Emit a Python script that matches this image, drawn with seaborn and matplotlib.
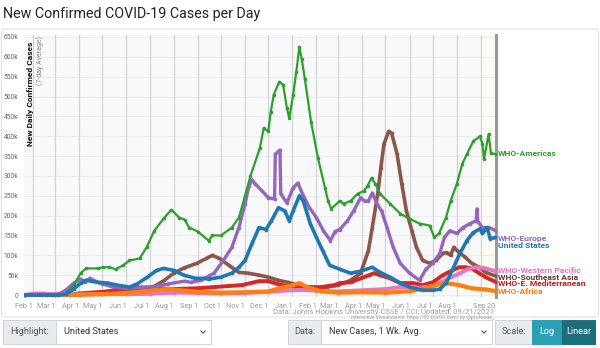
import matplotlib
matplotlib.use('Agg')
import matplotlib.pyplot as plt
from matplotlib.patches import Rectangle, FancyBboxPatch
import seaborn as sns
import pandas as pd

sns.set_theme(style='white')
plt.rcParams['font.family'] = ['Roboto', 'DejaVu Sans']

# ---------------- data (thousands of new cases per day, 7-day avg) ----------------
americas_dates = ['2020-01-22','2020-03-01','2020-03-15','2020-03-25','2020-04-03','2020-04-10','2020-04-25','2020-05-02',
    '2020-05-10','2020-05-18','2020-05-28','2020-06-05','2020-06-18','2020-06-27','2020-07-07','2020-07-20','2020-07-29',
    '2020-08-08','2020-08-15','2020-08-21','2020-09-01','2020-09-15','2020-09-20','2020-10-01','2020-10-15','2020-10-24',
    '2020-11-01','2020-11-08','2020-11-20','2020-11-25','2020-12-01','2020-12-04','2020-12-08','2020-12-15','2020-12-20',
    '2020-12-25','2020-12-28','2021-01-02','2021-01-06','2021-01-10','2021-01-13','2021-01-17','2021-01-25','2021-02-03',
    '2021-02-12','2021-02-16','2021-02-20','2021-03-03','2021-03-08','2021-03-17','2021-03-26','2021-04-03','2021-04-08',
    '2021-04-13','2021-04-18','2021-04-24','2021-05-07','2021-05-20','2021-06-01','2021-06-14','2021-06-27','2021-07-03',
    '2021-07-09','2021-07-18','2021-07-24','2021-08-01','2021-08-08','2021-08-14','2021-08-22','2021-08-31','2021-09-03',
    '2021-09-05','2021-09-11','2021-09-14','2021-09-20']
americas = [0,0,3,25,55,67,67,70,70,65,75,87,92,120,162,195,215,195,190,170,160,137,150,150,170,195,250,300,370,420,412,
    460,505,537,530,470,445,505,562,625,595,545,437,345,270,237,217,237,230,237,255,262,275,295,280,255,230,205,192,180,
    175,145,155,195,237,280,330,355,387,400,380,342,405,357,355]

europe_dates = ['2020-01-22','2020-02-25','2020-03-05','2020-03-15','2020-03-25','2020-04-03','2020-04-08','2020-04-15',
    '2020-04-22','2020-05-01','2020-05-15','2020-06-01','2020-06-20','2020-07-10','2020-07-25','2020-08-15','2020-08-23',
    '2020-09-05','2020-09-22','2020-10-04','2020-10-15','2020-10-24','2020-11-01','2020-11-06','2020-11-10','2020-11-14',
    '2020-11-23','2020-12-01','2020-12-09','2020-12-10','2020-12-16','2020-12-17','2020-12-25','2021-01-02','2021-01-08',
    '2021-01-14','2021-01-23','2021-02-01','2021-02-10','2021-02-19','2021-02-25','2021-03-03','2021-03-13','2021-03-21',
    '2021-03-30','2021-04-04','2021-04-09','2021-04-14','2021-04-20','2021-04-26','2021-05-03','2021-05-11','2021-05-20',
    '2021-06-01','2021-06-14','2021-06-22','2021-07-01','2021-07-10','2021-07-16','2021-07-23','2021-08-01','2021-08-09',
    '2021-08-18','2021-08-26','2021-08-27','2021-08-28','2021-09-03','2021-09-12','2021-09-20']
europe = [0,0,2,12,30,40,33,42,35,28,20,17,19,22,28,35,32,37,55,87,120,170,230,275,290,280,262,245,242,355,365,255,232,
    270,282,255,220,195,162,137,160,165,187,212,245,237,237,257,230,212,170,120,80,55,37,65,80,105,145,162,155,170,180,
    187,217,185,170,170,162]

us_dates = ['2020-01-22','2020-03-05','2020-03-15','2020-03-25','2020-04-03','2020-04-10','2020-04-25','2020-05-08',
    '2020-05-20','2020-06-05','2020-06-15','2020-06-28','2020-07-10','2020-07-19','2020-08-01','2020-08-14','2020-08-29',
    '2020-09-10','2020-09-15','2020-10-01','2020-10-15','2020-10-24','2020-11-01','2020-11-10','2020-11-19','2020-11-28',
    '2020-12-05','2020-12-14','2020-12-22','2020-12-28','2021-01-02','2021-01-10','2021-01-15','2021-01-24','2021-02-01',
    '2021-02-09','2021-02-18','2021-03-03','2021-03-17','2021-03-30','2021-04-14','2021-04-24','2021-05-07','2021-05-20',
    '2021-06-01','2021-06-18','2021-07-01','2021-07-10','2021-07-18','2021-07-26','2021-08-05','2021-08-14','2021-08-22',
    '2021-08-31','2021-09-03','2021-09-09','2021-09-13','2021-09-20']
us = [0,0,2,15,30,37,32,30,25,20,28,45,62,67,62,50,42,42,40,45,55,70,87,130,170,165,187,220,212,187,212,250,237,180,145,
    112,75,65,55,60,70,57,45,30,20,12,12,15,30,62,105,137,157,167,155,170,142,145]

wpac_dates = ['2020-01-22','2020-02-01','2020-02-05','2020-02-15','2020-03-01','2020-04-01','2020-05-01','2020-06-01',
    '2020-07-01','2020-08-01','2020-09-01','2020-10-01','2020-11-01','2020-12-01','2021-01-10','2021-02-01','2021-03-01',
    '2021-04-01','2021-05-01','2021-05-20','2021-06-10','2021-07-01','2021-07-15','2021-07-25','2021-08-05','2021-08-15',
    '2021-08-25','2021-09-05','2021-09-20']
wpac = [0.5,3,4,4,2,2,2,2,3,6,5,4,5,8,13,11,9,12,15,20,18,22,35,45,55,65,70,68,60]

sea_dates = ['2020-01-22','2020-03-15','2020-04-15','2020-05-15','2020-06-01','2020-06-20','2020-07-07','2020-07-20',
    '2020-08-01','2020-08-14','2020-08-31','2020-09-12','2020-09-20','2020-09-29','2020-10-11','2020-10-24','2020-11-05',
    '2020-11-19','2020-12-01','2020-12-14','2020-12-26','2021-01-08','2021-01-21','2021-02-03','2021-02-15','2021-03-01',
    '2021-03-17','2021-03-30','2021-04-09','2021-04-14','2021-04-21','2021-04-25','2021-04-29','2021-05-05','2021-05-09',
    '2021-05-16','2021-05-22','2021-05-28','2021-06-04','2021-06-10','2021-06-18','2021-06-27','2021-07-05','2021-07-14',
    '2021-07-19','2021-07-24','2021-07-28','2021-08-04','2021-08-12','2021-08-20','2021-08-30','2021-09-07','2021-09-20']
sea = [0,0,2,5,8,15,22,37,55,68,80,92,100,92,75,57,55,50,45,37,32,25,20,18,20,25,37,55,112,170,255,320,380,412,407,355,
    280,212,162,120,87,80,87,105,107,100,120,107,95,80,70,57,48]

emed_dates = ['2020-01-22','2020-02-20','2020-03-01','2020-03-20','2020-04-01','2020-05-01','2020-06-01','2020-06-20',
    '2020-07-10','2020-08-01','2020-09-01','2020-09-22','2020-10-28','2020-11-19','2020-12-01','2020-12-14','2020-12-26',
    '2021-01-08','2021-01-21','2021-02-07','2021-02-24','2021-03-03','2021-03-17','2021-03-30','2021-04-10','2021-04-16',
    '2021-04-24','2021-05-07','2021-05-20','2021-06-06','2021-06-18','2021-07-01','2021-07-14','2021-07-26','2021-08-04',
    '2021-08-12','2021-08-20','2021-08-30','2021-09-07','2021-09-20']
emed = [0,0,1,2,4,8,15,19,17,15,17,20,25,35,35,27,22,20,20,20,25,30,32,42,50,55,50,42,30,30,25,32,50,62,70,70,67,55,45,33]

africa_dates = ['2020-03-10','2020-04-01','2020-05-01','2020-06-01','2020-06-20','2020-07-10','2020-07-25','2020-08-10',
    '2020-09-01','2020-10-01','2020-11-01','2020-12-01','2020-12-15','2021-01-02','2021-01-10','2021-01-20','2021-02-07',
    '2021-03-01','2021-04-01','2021-05-01','2021-06-01','2021-06-15','2021-06-27','2021-07-10','2021-07-18','2021-08-04',
    '2021-08-20','2021-09-07','2021-09-20']
africa = [0,1,2,5,9,13,15,12,8,6,7,9,17,25,30,20,9,6,7,6,9,15,20,28,30,25,17,14,10]

series = [
    ('WHO-Southeast Asia', sea_dates, sea, '#8c564b', 2.6),
    ('WHO-E. Mediterranean', emed_dates, emed, '#d62728', 2.8),
    ('WHO-Western Pacific', wpac_dates, wpac, '#e377c2', 2.8),
    ('WHO-Africa', africa_dates, africa, '#ff7f0e', 3.0),
    ('WHO-Europe', europe_dates, europe, '#9467bd', 2.4),
    ('WHO-Americas', americas_dates, americas, '#2ca02c', 1.6),
    ('United States', us_dates, us, '#1f77b4', 2.6),
]

tick_dates = ['2020-02-01','2020-03-01','2020-04-01','2020-05-01','2020-06-01','2020-07-01','2020-08-01','2020-09-01',
    '2020-10-01','2020-11-01','2020-12-01','2021-01-01','2021-02-01','2021-03-01','2021-04-01','2021-05-01','2021-06-01',
    '2021-07-01','2021-08-01','2021-09-01','2021-09-20']
tick_labels = ['Feb 1','Mar 1','Apr 1','May 1','Jun 1','Jul 1','Aug 1','Sep 1','Oct 1','Nov 1','Dec 1','Jan 1','Feb 1',
    'Mar 1','Apr 1','May 1','Jun 1','Jul 1','Aug 1','','Sep 20']
y_ticks = list(range(0, 651, 50))

# label placement (pixel rows of the end labels)
end_labels = [('WHO-Americas', '#2ca02c', 154), ('WHO-Europe', '#9467bd', 239), ('United States', '#1f77b4', 246),
              ('WHO-Western Pacific', '#e377c2', 270.5), ('WHO-Southeast Asia', '#5e3a30', 277),
              ('WHO-E. Mediterranean', '#c41e1e', 283.5), ('WHO-Africa', '#ff7f0e', 292)]

# ---------------- figure ----------------
W, H = 600, 348
fig = plt.figure(figsize=(6, 3.48), dpi=100)
fig.patch.set_facecolor('white')
ui = fig.add_axes([0, 0, 1, 1])
ui.set_xlim(0, W); ui.set_ylim(H, 0); ui.axis('off')

# panel frame
ui.add_patch(FancyBboxPatch((1.5, 29), 597, 288, boxstyle='round,pad=0,rounding_size=3',
                            fc='white', ec='#e2e2e2', lw=0.8))
ui.text(3, 14, 'New Confirmed COVID-19 Cases per Day', fontsize=10.3, color='#222222', va='center', ha='left')

ax_l, ax_r, ax_t, ax_b = 24, 496, 35, 297
ax = fig.add_axes([ax_l / W, 1 - ax_b / H, (ax_r - ax_l) / W, (ax_b - ax_t) / H])
ax.set_facecolor('#f9f9fc')

x0 = pd.Timestamp('2020-01-21'); x1 = pd.Timestamp('2021-09-20 12:00')
ax.axvspan(pd.Timestamp('2021-09-02'), x1, color='#fcfcf4', zorder=0)

for name, d, v, col, lw in series:
    df = pd.DataFrame({'date': pd.to_datetime(d), 'cases': v})
    sns.lineplot(data=df, x='date', y='cases', ax=ax, color=col, lw=lw, marker='o', markersize=2.6,
                 markeredgewidth=0, legend=False, zorder=3)

ax.set_xlim(x0, x1)
ax.set_ylim(-5, 655)
ax.set_xlabel(''); ax.set_ylabel('')

td = pd.to_datetime(tick_dates)
ax.set_xticks(td)
ax.set_xticklabels(tick_labels, fontsize=5.2, color='#999999', ha='right')
ax.set_yticks(y_ticks)
ax.set_yticklabels(['0'] + [f'{t}k' for t in y_ticks[1:]], fontsize=4.8, color='#666666')
ax.tick_params(axis='x', length=3, width=0.8, color='#cccccc', pad=1)
ax.tick_params(axis='y', length=3, width=0.6, color='#888888', pad=1)
ax.grid(axis='y', color='#ececf1', lw=0.8)
for t in td[:-1]:
    ax.axvline(t, color='#d3d3d3', lw=0.9, zorder=1)
for s in ['left', 'top', 'bottom']:
    ax.spines[s].set_visible(False)
ax.spines['right'].set_color('#9a9a9a'); ax.spines['right'].set_linewidth(2.2)

ax.text(0.006, 0.975, 'New Daily Confirmed Cases', transform=ax.transAxes, rotation=90, ha='left', va='top',
        fontsize=6.0, fontweight='bold', color='#111111')
ax.text(0.026, 0.995, '(7-day Average)', transform=ax.transAxes, rotation=90, ha='left', va='top',
        fontsize=5.0, color='#888888')

for name, col, y in end_labels:
    ui.text(497.5, y, name, color=col, fontsize=6.1, fontweight='bold', va='center', ha='left')

ui.text(494, 311.5, 'Data: Johns Hopkins University CSSE / CCI; Updated: 09/21/2021', fontsize=5.5,
        color='#a0a0a0', ha='right', va='center')
ui.text(494, 317, 'Interactive Visualization: https://91-DIVOC.com/ by @profwade_', fontsize=3.6,
        color='#a0a0a0', ha='right', va='center')

# controls row
def box(x, w, fc, ec='#ced4da', y=320, h=24):
    ui.add_patch(Rectangle((x, y), w, h, fc=fc, ec=ec, lw=0.7))

def chevron(x, y=332):
    ui.plot([x - 2.2, x, x + 2.2], [y - 1.2, y + 1.2, y - 1.2], color='#555555', lw=0.8)

box(3, 53, '#e9ecef'); ui.text(29.5, 332, 'Highlight:', fontsize=6.6, color='#555555', ha='center', va='center')
box(56, 155, 'white'); ui.text(64, 332, 'United States', fontsize=6.6, color='#333333', ha='left', va='center')
chevron(203)
box(288, 33, '#e9ecef'); ui.text(304.5, 332, 'Data:', fontsize=6.6, color='#555555', ha='center', va='center')
box(321, 171, 'white'); ui.text(329, 332, 'New Cases, 1 Wk. Avg.', fontsize=6.6, color='#333333', ha='left', va='center')
chevron(484)
box(495, 37, '#e9ecef'); ui.text(513.5, 332, 'Scale:', fontsize=6.6, color='#555555', ha='center', va='center')
box(532, 30, '#2b9fb3', ec='#2b9fb3'); ui.text(547, 332, 'Log', fontsize=6.6, color='white', ha='center', va='center')
box(562, 33, '#1d6e7d', ec='#1d6e7d'); ui.text(578.5, 332, 'Linear', fontsize=6.6, color='white', ha='center', va='center')

fig.savefig('out.png', dpi=100)
